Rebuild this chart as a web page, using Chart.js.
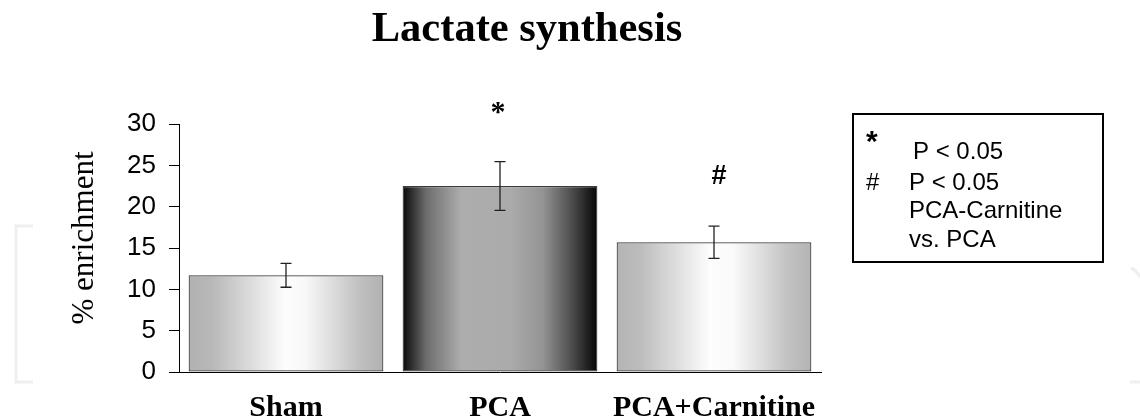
<!DOCTYPE html>
<html>
<head>
<meta charset="utf-8">
<script src="https://cdn.jsdelivr.net/npm/chart.js@4/dist/chart.umd.min.js"></script>
<style>
  html, body { margin: 0; padding: 0; background: #fff; }
  #wrap { width: 1140px; height: 420px; }
</style>
</head>
<body>
<div id="wrap"><canvas id="lactate"></canvas></div>
<script>
//------------------------------------- Données -------------------------------------
const groupes = ['Sham', 'PCA', 'PCA+Carnitine'];
const enrichissement = [11.7, 22.5, 15.7];
const erreurs = [1.45, 2.95, 1.95];
const marques = ['', '*', '#'];
const ticksY = [0, 5, 10, 15, 20, 25, 30];
const legendeSymboles = ['*', '#', '', ''];
const legendeTextes = ['P < 0.05', 'P < 0.05', 'PCA-Carnitine', 'vs. PCA'];

const SERIF = '"Liberation Serif", "Times New Roman", serif';
const SANS = '"Liberation Sans", Arial, sans-serif';
const LARGEUR_BARRE = 0.91;

// dégradés horizontaux de chaque barre
const degrades = [
  [[0, '#b1b1b1'], [0.12, '#b8b8b8'], [0.5, '#fdfdfd'], [0.6, '#f8f8f8'], [0.88, '#c0c0c0'], [1, '#b1b1b1']],
  [[0, '#080808'], [0.12, '#6c6c6c'], [0.3, '#adadad'], [0.55, '#ababab'], [0.72, '#949494'], [0.88, '#474747'], [1, '#050505']],
  [[0, '#b4b4b4'], [0.12, '#bcbcbc'], [0.48, '#fdfdfd'], [0.6, '#fafafa'], [0.88, '#c2c2c2'], [1, '#b4b4b4']]
];

// couleur de fond calculée pour chaque barre
function fondBarre(context) {
  const chart = context.chart;
  const zone = chart.chartArea;
  const x = chart.scales.x;
  if (!zone || !x) return '#cccccc';
  const i = context.dataIndex;
  const centre = x.getPixelForValue(i);
  const demi = (zone.right - zone.left) / groupes.length * LARGEUR_BARRE / 2;
  const g = chart.ctx.createLinearGradient(centre - demi, 0, centre + demi, 0);
  degrades[i].forEach(([pos, couleur]) => g.addColorStop(pos, couleur));
  return g;
}

//------------------------------------- Plugin : barres d'erreur et annotations -------------------------------------
const pluginErreurs = {
  id: 'erreurs',
  afterDatasetsDraw(chart) {
    const ctx = chart.ctx;
    const y = chart.scales.y;
    chart.getDatasetMeta(0).data.forEach((barre, i) => {
      const haut = y.getPixelForValue(enrichissement[i] + erreurs[i]);
      const bas = y.getPixelForValue(enrichissement[i] - erreurs[i]);
      ctx.save();
      ctx.strokeStyle = '#222';
      ctx.lineWidth = 1.3;
      ctx.beginPath();
      ctx.moveTo(barre.x, haut); ctx.lineTo(barre.x, bas);
      ctx.moveTo(barre.x - 5.5, haut); ctx.lineTo(barre.x + 5.5, haut);
      ctx.moveTo(barre.x - 5.5, bas); ctx.lineTo(barre.x + 5.5, bas);
      ctx.stroke();

      if (marques[i]) {
        ctx.fillStyle = '#000';
        ctx.textAlign = 'center';
        ctx.textBaseline = 'middle';
        if (marques[i] === '*') {
          ctx.font = 'bold 30px ' + SERIF;
          ctx.fillText(marques[i], barre.x - 2, haut - 48);
        } else {
          ctx.font = 'bold 27px ' + SANS;
          ctx.fillText(marques[i], barre.x + 5, haut - 50);
        }
      }
      ctx.restore();
    });
  },
  afterDraw(chart) {
    const ctx = chart.ctx;
    ctx.save();
    ctx.fillStyle = '#000';

    // titre
    ctx.font = 'bold 42.5px ' + SERIF;
    ctx.textAlign = 'center';
    ctx.textBaseline = 'alphabetic';
    ctx.fillText('Lactate synthesis', 527, 41);

    // titre de l'axe Y
    ctx.save();
    ctx.translate(93, 238);
    ctx.rotate(-Math.PI / 2);
    ctx.font = '31px ' + SERIF;
    ctx.fillText('% enrichment', 0, 0);
    ctx.restore();

    // légende encadrée
    ctx.lineWidth = 2;
    ctx.strokeStyle = '#000';
    ctx.strokeRect(853, 114, 250, 148);
    ctx.textAlign = 'left';
    const bases = [159, 190, 218, 247];
    legendeTextes.forEach((t, i) => {
      ctx.font = '24px ' + SANS;
      ctx.fillText(t, i === 0 ? 913 : 909, bases[i]);
      if (legendeSymboles[i] === '*') {
        ctx.font = 'bold 30px ' + SANS;
        ctx.fillText('*', 866, bases[i] - 8);
      } else if (legendeSymboles[i]) {
        ctx.font = '24px ' + SANS;
        ctx.fillText(legendeSymboles[i], 866, bases[i]);
      }
    });

    // crochets filigrane
    ctx.strokeStyle = '#efefef';
    ctx.lineWidth = 3;
    ctx.beginPath();
    ctx.moveTo(33, 226); ctx.lineTo(16, 226); ctx.lineTo(16, 382); ctx.lineTo(33, 382);
    ctx.moveTo(1131, 268); ctx.quadraticCurveTo(1136, 270, 1140, 277);
    ctx.moveTo(1130, 382); ctx.lineTo(1140, 382);
    ctx.stroke();
    ctx.restore();
  }
};

//------------------------------------- Graphique -------------------------------------
const ctx = document.getElementById('lactate').getContext('2d');
new Chart(ctx, {
  type: 'bar',
  data: {
    labels: groupes,
    datasets: [{
      label: '% enrichment',
      data: enrichissement,
      backgroundColor: fondBarre,
      borderColor: '#3a3a3a',
      borderWidth: 1.2,
      borderSkipped: false,
      categoryPercentage: 1,
      barPercentage: LARGEUR_BARRE
    }]
  },
  options: {
    responsive: true,
    maintainAspectRatio: false,
    animation: false,
    layout: { padding: { top: 124, right: 319, left: 0, bottom: 0 } },
    plugins: {
      legend: { display: false },
      title: { display: false },
      tooltip: { enabled: false }
    },
    scales: {
      x: {
        grid: { display: false },
        border: { display: true, color: '#000', width: 1 },
        ticks: {
          color: '#000',
          font: { family: SERIF, size: 30, weight: 'bold' },
          padding: 10,
          maxRotation: 0
        },
        afterFit: scale => { scale.height = 48; }
      },
      y: {
        min: 0,
        max: 30,
        afterBuildTicks: scale => { scale.ticks = ticksY.map(v => ({ value: v })); },
        grid: { drawOnChartArea: false, drawTicks: true, tickLength: 10, color: '#000', lineWidth: 1 },
        border: { display: true, color: '#000', width: 1 },
        ticks: {
          color: '#000',
          font: { family: SANS, size: 26 },
          padding: 13
        },
        afterFit: scale => { scale.width = 179; }
      }
    }
  },
  plugins: [pluginErreurs]
});
</script>
</body>
</html>
